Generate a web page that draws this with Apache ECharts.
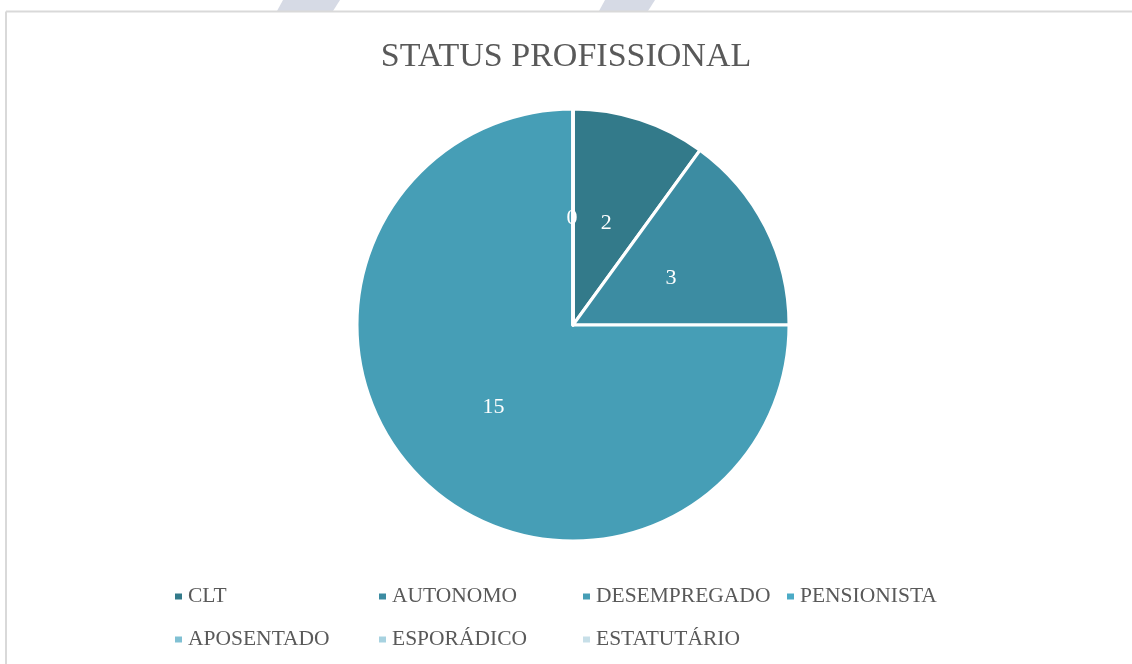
<!DOCTYPE html>
<html>
<head>
<meta charset="utf-8">
<script src="https://cdn.jsdelivr.net/npm/echarts@6/dist/echarts.min.js"></script>
<style>
  html, body { margin: 0; padding: 0; background: #fff; overflow: hidden; }
  #chart { width: 1132px; height: 664px; }
</style>
</head>
<body>
<div id="chart"></div>
<script>
const categories = ["CLT", "AUTONOMO", "DESEMPREGADO", "PENSIONISTA", "APOSENTADO", "ESPORÁDICO", "ESTATUTÁRIO"];
const values = [2, 3, 15, 0, 0, 0, 0];
const colors = ["#337a8a", "#3c8ca2", "#469eb6", "#4babc6", "#80c0d3", "#a7d2e0", "#c7dfe8"];

const fontFamily = '"Liberation Serif", "DejaVu Serif", serif';
const myChart = echarts.init(document.getElementById("chart"));

const option = {
  backgroundColor: "#fff",
  animation: false,
  graphic: [
    // faint watermark shapes above the frame
    { type: "polygon", silent: true, shape: { points: [[283, 0], [340, 0], [333, 11], [277, 11]] }, style: { fill: "#d6dae5" } },
    { type: "polygon", silent: true, shape: { points: [[605, 0], [655, 0], [648, 11], [599, 11]] }, style: { fill: "#d6dae5" } },
    // chart frame, only left and top edges are inside the picture
    { type: "line", silent: true, shape: { x1: 6, y1: 11.5, x2: 1132, y2: 11.5 }, style: { stroke: "#d9d9d9", lineWidth: 2 } },
    { type: "line", silent: true, shape: { x1: 6, y1: 11.5, x2: 6, y2: 664 }, style: { stroke: "#d9d9d9", lineWidth: 2 } },
  ],
  title: {
    text: "STATUS PROFISSIONAL",
    left: "center",
    top: 35,
    textStyle: {
      fontFamily: fontFamily,
      fontWeight: "normal",
      fontSize: 34,
      color: "#595959",
    },
  },
  legend: {
    left: 168,
    top: 575,
    width: 830,
    itemWidth: 9,
    itemHeight: 8,
    itemGap: 10,
    icon: "rect",
    textStyle: {
      fontFamily: fontFamily,
      fontSize: 21.5,
      color: "#595959",
      width: 179,
      lineHeight: 33,
    },
    data: categories,
  },
  series: [
    {
      type: "pie",
      center: [573, 325],
      radius: 216,
      startAngle: 90,
      clockwise: true,
      avoidLabelOverlap: false,
      itemStyle: {
        borderColor: "#fff",
        borderWidth: 3,
      },
      label: {
        show: true,
        position: "inside",
        formatter: "{c}",
        fontFamily: fontFamily,
        fontSize: 22,
        color: "#fff",
        offset: [-1, 4],
      },
      labelLine: { show: false },
      emphasis: { disabled: true },
      data: categories.map((name, i) => ({
        name: name,
        value: values[i],
        itemStyle: { color: colors[i] },
      })),
    },
  ],
};

myChart.setOption(option);
</script>
</body>
</html>
